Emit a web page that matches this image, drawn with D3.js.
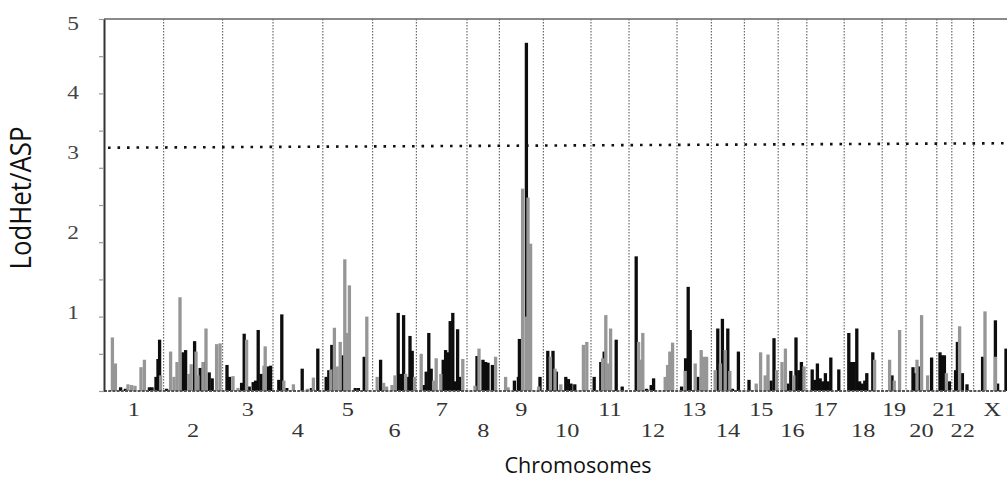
<!DOCTYPE html>
<html>
<head>
<meta charset="utf-8">
<script src="https://cdn.jsdelivr.net/npm/d3@7"></script>
<style>
  body { margin: 0; background: #fff; }
  svg { display: block; }
</style>
</head>
<body>
<script>
// chromosomes and their (approximate) lengths in cM
const chromNames = ['1','2','3','4','5','6','7','8','9','10','11','12','13','14','15','16','17','18','19','20','21','22','X'];
const chromLengths = [298, 295, 252, 249, 249, 219, 253, 162, 220, 238, 190, 240, 172, 165, 169, 143, 187, 190, 119, 154, 75, 109, 187];

// LodHet scores (grey bars): [position in cM, score], one list per chromosome
const lodhet = [
  [[42,0.72],[57,0.37],[120,0.09],[138,0.08],[155,0.07],[185,0.32],[202,0.42],[283,0.21]],
  [[35,0.53],[52,0.19],[67,0.39],[82,1.26],[125,0.23],[138,0.36],[162,0.53],[172,0.21],[197,0.39],[212,0.84],[265,0.63],[282,0.64]],
  [[52,0.20],[77,0.04],[120,0.69],[207,0.34],[213,0.60]],
  [[54,0.14],[102,0.09],[172,0.03],[202,0.18]],
  [[40,0.29],[58,0.85],[72,0.33],[87,0.66],[110,1.77],[123,0.78],[133,1.42],[220,1.00]],
  [[23,0.19],[55,0.11],[70,0.06],[97,0.08],[112,0.21],[165,0.23],[210,0.19]],
  [[24,0.50],[86,0.14],[99,0.44],[122,0.23],[232,0.43]],
  [[40,0.07],[60,0.57],[143,0.46]],
  [[31,0.19],[43,0.05],[116,2.72],[135,1.00],[143,2.60],[156,1.98],[196,0.06]],
  [[35,0.46],[58,0.30],[87,0.09],[200,0.62],[217,0.66]],
  [[58,0.44],[74,1.02],[86,0.37],[98,0.84]],
  [[48,0.66],[61,0.42],[69,0.78],[181,0.19],[193,0.35],[204,0.53],[218,0.65]],
  [[41,0.27],[91,0.37],[121,0.55],[134,0.46],[148,0.46]],
  [[19,0.28],[45,0.37],[69,0.55],[92,0.27]],
  [[59,0.10],[81,0.52],[104,0.21],[118,0.49],[161,0.28]],
  [[19,0.39],[36,0.57],[78,0.21],[129,0.33]],
  [],
  [[152,0.42]],
  [[37,0.42],[60,0.14],[87,0.82]],
  [[55,0.42],[78,1.02],[108,0.21]],
  [[48,0.24]],
  [[39,0.87]],
  [[57,1.07],[109,0.46]]
];

// ASP scores (black bars)
const asp = [
  [[83,0.05],[107,0.03],[227,0.05],[240,0.05],[260,0.19],[270,0.43],[278,0.69]],
  [[15,0.03],[97,0.52],[110,0.55],[155,0.67],[183,0.31],[203,0.39],[228,0.25],[243,0.17]],
  [[22,0.35],[35,0.19],[95,0.11],[108,0.77],[133,0.06],[153,0.12],[165,0.14],[178,0.82],[193,0.23],[227,0.33],[240,0.34]],
  [[29,0.15],[44,1.03],[69,0.04],[146,0.30],[192,0.04],[224,0.57]],
  [[17,0.19],[30,0.28],[45,0.62],[98,0.48],[162,0.04],[178,0.04],[207,0.46]],
  [[40,0.42],[128,1.05],[140,0.23],[155,1.02],[178,0.19],[187,0.74],[198,0.54]],
  [[37,0.08],[49,0.26],[62,0.78],[74,0.30],[134,0.42],[146,0.55],[159,0.52],[169,0.94],[182,1.05],[194,0.13],[206,0.83],[217,0.19]],
  [[50,0.47],[80,0.42],[93,0.39],[105,0.38],[127,0.35]],
  [[75,0.14],[95,0.19],[100,0.70],[135,4.68],[203,0.19]],
  [[22,0.54],[48,0.54],[65,0.26],[112,0.19],[125,0.16],[138,0.10],[157,0.09]],
  [[16,0.19],[49,0.39],[66,0.53],[126,0.69],[156,0.06]],
  [[36,1.81],[88,0.03],[111,0.08],[123,0.17]],
  [[23,0.06],[43,0.44],[56,1.40],[66,0.82],[104,0.19]],
  [[32,0.84],[55,0.97],[82,0.84],[105,0.03],[135,0.53]],
  [[23,0.15],[133,0.14],[148,0.71]],
  [[48,0.10],[63,0.27],[89,0.72],[103,0.28],[116,0.39]],
  [[27,0.29],[40,0.15],[53,0.37],[67,0.17],[80,0.13],[93,0.24],[107,0.13],[120,0.45],[160,0.29]],
  [[23,0.78],[37,0.39],[50,0.39],[63,0.84],[77,0.13],[90,0.10],[103,0.14],[113,0.24],[143,0.52]],
  [[49,0.21]],
  [[35,0.32],[47,0.24],[67,0.33],[128,0.45]],
  [[16,0.52],[26,0.48],[38,0.48],[63,0.13]],
  [[19,0.28],[28,0.66],[53,0.24],[76,0.09]],
  [[45,0.46],[109,0.95],[120,0.10],[162,0.57]]
];

// y axis: minor ticks every 0.5, labels where they sit in the original figure
const yTicks = d3.range(0, 5.01, 0.5);
const yLabels = ['1', '2', '3', '4', '5'];
const yLabelAt = [1.05, 2.12, 3.2, 4.0, 4.93];

// significance threshold (drawn slightly tilted in the original)
const thresholdLeft = 3.27;
const thresholdRight = 3.33;

const W = 1007, H = 492;
const x0 = 104, y0 = 391, yTop = 19;

const starts = [0, ...d3.cumsum(chromLengths)];
const total = starts[starts.length - 1];

const x = d3.scaleLinear().domain([0, total]).range([x0, x0 + total / 5]);
const y = d3.scaleLinear().domain([0, 5]).range([y0, yTop]);

const svg = d3.select('body').append('svg')
    .attr('width', W)
    .attr('height', H)
    .attr('viewBox', `0 0 ${W} ${H}`);

// top frame line
svg.append('line')
    .attr('x1', x0).attr('x2', W)
    .attr('y1', y(5)).attr('y2', y(5))
    .attr('stroke', '#8a8a8a')
    .attr('stroke-width', 2);

// chromosome separators
svg.append('g')
    .selectAll('line')
    .data(starts.slice(1, -1))
    .join('line')
    .attr('x1', d => x(d)).attr('x2', d => x(d))
    .attr('y1', y(5)).attr('y2', y(0))
    .attr('stroke', '#6a6a6a')
    .attr('stroke-width', 1.2)
    .attr('stroke-dasharray', '1.5 1.5');

// flatten bars
const barW = 3.3;
const flat = (arr) => arr.flatMap((list, i) => list.map(([p, v]) => ({ pos: starts[i] + p, v })));

// black ASP bars first, grey LodHet on top
svg.append('g')
    .selectAll('rect')
    .data(flat(asp))
    .join('rect')
    .attr('x', d => x(d.pos) - barW / 2)
    .attr('y', d => y(d.v))
    .attr('width', barW)
    .attr('height', d => y(0) - y(d.v))
    .attr('fill', '#0d0d0d');

svg.append('g')
    .selectAll('rect')
    .data(flat(lodhet))
    .join('rect')
    .attr('x', d => x(d.pos) - barW / 2)
    .attr('y', d => y(d.v))
    .attr('width', barW)
    .attr('height', d => y(0) - y(d.v))
    .attr('fill', '#969696');

// baseline
svg.append('line')
    .attr('x1', x0).attr('x2', W)
    .attr('y1', y(0)).attr('y2', y(0))
    .attr('stroke', '#555')
    .attr('stroke-width', 2)
    .attr('stroke-dasharray', '3 1.2');

// threshold line
svg.append('line')
    .attr('x1', x0 + 4).attr('x2', W)
    .attr('y1', y(thresholdLeft)).attr('y2', y(thresholdRight))
    .attr('stroke', '#111')
    .attr('stroke-width', 2.6)
    .attr('stroke-dasharray', '2.6 6.9');

// y axis
const yAxis = svg.append('g')
    .attr('transform', `translate(${x0},0)`)
    .call(d3.axisLeft(y).tickValues(yTicks).tickSize(5).tickSizeOuter(0).tickFormat(''));
yAxis.select('.domain').attr('stroke', '#333').attr('stroke-width', 2);
yAxis.selectAll('.tick line').attr('stroke', '#999').attr('stroke-width', 1.2);

// y tick labels
svg.append('g')
    .selectAll('text')
    .data(yLabels)
    .join('text')
    .attr('transform', (d, i) => `translate(73,${y(yLabelAt[i]) + 6}) scale(1.3,1)`)
    .attr('text-anchor', 'middle')
    .attr('font-family', '"Liberation Serif", serif')
    .attr('font-size', 18)
    .attr('fill', '#444')
    .text(d => d);

// chromosome labels, two staggered rows
svg.append('g')
    .selectAll('text')
    .data(chromNames)
    .join('text')
    .attr('transform', (d, i) => {
        const cx = x(starts[i] + chromLengths[i] / 2);
        const row = (i % 2 === 0) ? 416 : 437;
        return `translate(${cx},${row}) scale(1.35,1)`;
    })
    .attr('text-anchor', 'middle')
    .attr('font-family', '"Liberation Serif", serif')
    .attr('font-size', 18)
    .attr('fill', '#333')
    .text(d => d);

// axis titles
svg.append('text')
    .attr('transform', 'translate(31,198) scale(1.25,1) rotate(-90)')
    .attr('text-anchor', 'middle')
    .attr('font-family', '"Open Sans", sans-serif')
    .attr('font-size', 23)
    .attr('textLength', 143)
    .attr('lengthAdjust', 'spacingAndGlyphs')
    .attr('fill', '#111')
    .text('LodHet/ASP');

svg.append('text')
    .attr('x', 578)
    .attr('y', 473)
    .attr('text-anchor', 'middle')
    .attr('font-family', '"Open Sans", sans-serif')
    .attr('font-size', 22)
    .attr('textLength', 147)
    .attr('lengthAdjust', 'spacingAndGlyphs')
    .attr('fill', '#111')
    .text('Chromosomes');
</script>
</body>
</html>
